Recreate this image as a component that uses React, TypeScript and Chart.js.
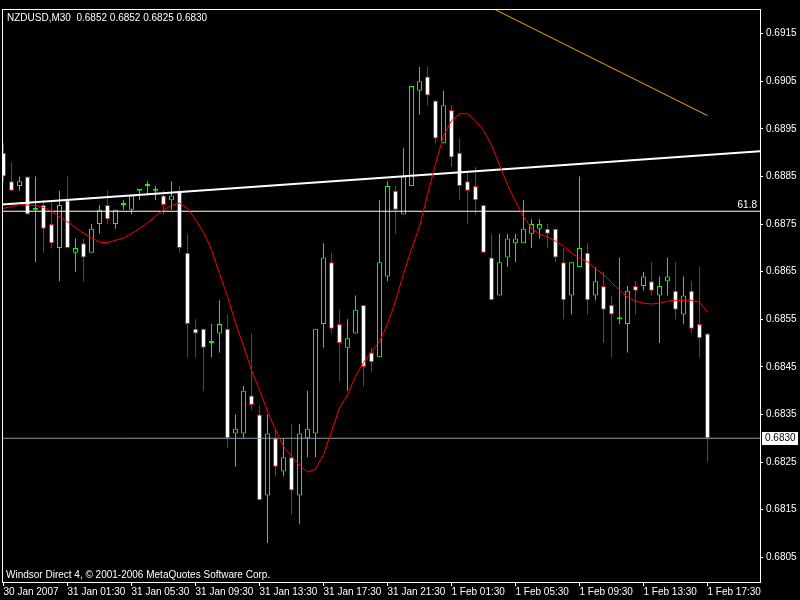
import React, { useEffect, useRef } from 'react';
import { Chart, registerables } from 'chart.js';

Chart.register(...registerables);

// ---- Data (NZDUSD, M30) ----
const SYMBOL = 'NZDUSD,M30';
const OPEN = [
  0.6890, 0.6884, 0.6883, 0.6885, 0.6878, 0.6879, 0.6875, 0.6870, 0.6880, 0.6869,
  0.6871, 0.6869, 0.6875, 0.6879, 0.6875, 0.6879, 0.6878, 0.6882, 0.6883, 0.6882,
  0.6881, 0.6880, 0.6882, 0.6869, 0.6853, 0.6853, 0.6850, 0.6852, 0.6853, 0.6831,
  0.6831, 0.6839, 0.6835, 0.6818, 0.6830, 0.6823, 0.6826, 0.6818, 0.6830, 0.6831,
  0.6854, 0.6867, 0.6854, 0.6849, 0.6852, 0.6858, 0.6848, 0.6847, 0.6864, 0.6882,
  0.6877, 0.6883, 0.6903, 0.6906, 0.6901, 0.6892, 0.6899, 0.6890, 0.6884, 0.6883,
  0.6879, 0.6868, 0.6860, 0.6868, 0.6871, 0.6871, 0.6873, 0.6874, 0.6874, 0.6874,
  0.6867, 0.6860, 0.6866, 0.6869, 0.6860, 0.6862, 0.6858, 0.6855, 0.6854, 0.6862,
  0.6862, 0.6863, 0.6860, 0.6863, 0.6861, 0.6856, 0.6861, 0.6854, 0.6852,
];
const HIGH = [
  0.6892, 0.6888, 0.6885, 0.6885, 0.6885, 0.6880, 0.6880, 0.6882, 0.6885, 0.6872,
  0.6872, 0.6875, 0.6879, 0.6882, 0.6878, 0.6880, 0.6881, 0.6882, 0.6884, 0.6883,
  0.6882, 0.6884, 0.6883, 0.6873, 0.6855, 0.6853, 0.6854, 0.6859, 0.6856, 0.6835,
  0.6841, 0.6852, 0.6837, 0.6835, 0.6832, 0.6830, 0.6833, 0.6833, 0.6840, 0.6853,
  0.6871, 0.6869, 0.6857, 0.6855, 0.6860, 0.6858, 0.6849, 0.6880, 0.6884, 0.6883,
  0.6891, 0.6904, 0.6908, 0.6908, 0.6901, 0.6903, 0.6900, 0.6893, 0.6886, 0.6887,
  0.6879, 0.6873, 0.6873, 0.6873, 0.6873, 0.6880, 0.6876, 0.6876, 0.6875, 0.6874,
  0.6870, 0.6867, 0.6885, 0.6871, 0.6866, 0.6865, 0.6860, 0.6868, 0.6862, 0.6863,
  0.6865, 0.6867, 0.6864, 0.6868, 0.6867, 0.6864, 0.6863, 0.6866, 0.6852,
];
const LOW = [
  0.6884, 0.6882, 0.6882, 0.6877, 0.6867, 0.6869, 0.6870, 0.6863, 0.6870, 0.6865,
  0.6863, 0.6869, 0.6873, 0.6875, 0.6874, 0.6878, 0.6877, 0.6880, 0.6881, 0.6880,
  0.6877, 0.6878, 0.6869, 0.6847, 0.6847, 0.6840, 0.6847, 0.6848, 0.6828, 0.6824,
  0.6830, 0.6836, 0.6817, 0.6808, 0.6822, 0.6822, 0.6814, 0.6812, 0.6826, 0.6826,
  0.6849, 0.6852, 0.6842, 0.6840, 0.6852, 0.6841, 0.6844, 0.6847, 0.6863, 0.6873,
  0.6877, 0.6883, 0.6898, 0.6900, 0.6892, 0.6892, 0.6887, 0.6880, 0.6875, 0.6877,
  0.6869, 0.6859, 0.6860, 0.6866, 0.6867, 0.6871, 0.6870, 0.6872, 0.6870, 0.6867,
  0.6855, 0.6856, 0.6866, 0.6856, 0.6859, 0.6850, 0.6847, 0.6854, 0.6848, 0.6856,
  0.6861, 0.6860, 0.6850, 0.6860, 0.6855, 0.6854, 0.6852, 0.6847, 0.6825,
];
const CLOSE = [
  0.6885, 0.6882, 0.6884, 0.6877, 0.6878, 0.6874, 0.6871, 0.6879, 0.6870, 0.6870,
  0.6868, 0.6874, 0.6878, 0.6876, 0.6878, 0.6879, 0.6881, 0.6882, 0.6883, 0.6882,
  0.6879, 0.6881, 0.6870, 0.6854, 0.6852, 0.6849, 0.6850, 0.6854, 0.6830, 0.6832,
  0.6840, 0.6837, 0.6817, 0.6831, 0.6824, 0.6826, 0.6819, 0.6831, 0.6832, 0.6853,
  0.6868, 0.6853, 0.6850, 0.6851, 0.6857, 0.6845, 0.6846, 0.6867, 0.6883, 0.6878,
  0.6885, 0.6904, 0.6905, 0.6902, 0.6893, 0.6900, 0.6889, 0.6883, 0.6882, 0.6880,
  0.6869, 0.6859, 0.6867, 0.6872, 0.6872, 0.6874, 0.6875, 0.6875, 0.6873, 0.6868,
  0.6859, 0.6867, 0.6870, 0.6859, 0.6863, 0.6857, 0.6856, 0.6855, 0.6861, 0.6861,
  0.6864, 0.6861, 0.6862, 0.6864, 0.6857, 0.6860, 0.6853, 0.6851, 0.6830,
];
// smoothed moving average
const MA = [
  0.68783, 0.68787, 0.68791, 0.68790, 0.68789, 0.68785, 0.68777, 0.68765, 0.68755, 0.68743,
  0.68731, 0.68721, 0.68712, 0.68711, 0.68716, 0.68721, 0.68730, 0.68741, 0.68753, 0.68767,
  0.68780, 0.68789, 0.68794, 0.68783, 0.68759, 0.68733, 0.68696, 0.68646, 0.68598, 0.68542,
  0.68494, 0.68443, 0.68401, 0.68357, 0.68318, 0.68283, 0.68262, 0.68243, 0.68229, 0.68235,
  0.68266, 0.68314, 0.68364, 0.68391, 0.68430, 0.68459, 0.68482, 0.68503, 0.68540, 0.68588,
  0.68646, 0.68698, 0.68745, 0.68812, 0.68876, 0.68936, 0.68967, 0.68982, 0.68982, 0.68967,
  0.68947, 0.68916, 0.68874, 0.68833, 0.68797, 0.68766, 0.68741, 0.68729, 0.68723, 0.68714,
  0.68704, 0.68689, 0.68679, 0.68671, 0.68656, 0.68644, 0.68627, 0.68611, 0.68596, 0.68588,
  0.68584, 0.68582, 0.68584, 0.68588, 0.68590, 0.68590, 0.68590, 0.68586, 0.68565,
];

const X_TICK_BARS = [0, 8, 16, 24, 32, 40, 48, 56, 64, 72, 80, 88];
const X_LABELS = [
  '30 Jan 2007', '31 Jan 01:30', '31 Jan 05:30', '31 Jan 09:30', '31 Jan 13:30', '31 Jan 17:30',
  '31 Jan 21:30', '1 Feb 01:30', '1 Feb 05:30', '1 Feb 09:30', '1 Feb 13:30', '1 Feb 17:30',
];
const Y_TICKS = [0.6805, 0.6815, 0.6825, 0.6835, 0.6845, 0.6855, 0.6865, 0.6875, 0.6885, 0.6895, 0.6905, 0.6915];

const TREND_BARS = [-0.1875, 94.5625];
const TREND_PRICES = [0.68791, 0.68903];
const ORANGE_BARS = [61.3, 88];
const ORANGE_PRICES = [0.69202, 0.68978];
const FIB_LEVEL = 0.68777;
const FIB_LABEL = '61.8';
const BID = 0.6830;
const COPYRIGHT = 'Windsor Direct 4, \u00A9 2001-2006 MetaQuotes Software Corp.';

// axis ranges
const X_MIN = -0.1875;
const X_MAX = 94.5625;
const Y_MIN = 0.67998;
const Y_MAX = 0.69202;

const FONT = '"Liberation Sans", Arial, sans-serif';
const UP = '#00FF00';
const DOWN = '#FF0000';

export default function App() {
  const ref = useRef<HTMLCanvasElement | null>(null);

  useEffect(() => {
    const canvas = ref.current;
    if (!canvas) return;
    const idx = OPEN.map((_, i) => i);
    const isUp = idx.map((i) => CLOSE[i] >= OPEN[i]);
    const last = OPEN.length - 1;
    const title = `${SYMBOL}  ${OPEN[last].toFixed(4)} ${HIGH[last].toFixed(4)} ${LOW[last].toFixed(4)} ${CLOSE[last].toFixed(4)}`;

    const overlay = {
      id: 'mt4overlay',
      beforeDraw(chart: any) {
        const { ctx, width, height } = chart;
        ctx.save();
        ctx.fillStyle = '#000';
        ctx.fillRect(0, 0, width, height);
        ctx.restore();
      },
      afterDraw(chart: any) {
        const { ctx, chartArea: a, scales } = chart;
        const y = scales.y;
        ctx.save();
        ctx.strokeStyle = '#fff';
        ctx.lineWidth = 1;
        ctx.strokeRect(a.left + 0.5, a.top + 0.5, a.right - a.left, a.bottom - a.top);
        ctx.font = `10px ${FONT}`;
        ctx.fillStyle = '#fff';
        ctx.textAlign = 'left';
        ctx.textBaseline = 'middle';
        ctx.fillText(title, a.left + 5, a.top + 9);
        ctx.fillText(COPYRIGHT, a.left + 4, a.bottom - 7);
        const fy = y.getPixelForValue(FIB_LEVEL);
        ctx.textAlign = 'right';
        ctx.textBaseline = 'bottom';
        ctx.fillText(FIB_LABEL, a.right - 3, fy - 1);
        const by = Math.round(y.getPixelForValue(BID));
        ctx.fillStyle = '#fff';
        ctx.fillRect(a.right + 2, by - 6, 36, 13);
        ctx.fillStyle = '#000';
        ctx.textAlign = 'left';
        ctx.textBaseline = 'middle';
        ctx.fillText(BID.toFixed(4), a.right + 5, by + 0.5);
        ctx.restore();
      },
    };

    const chart = new Chart(canvas, {
      type: 'bar',
      data: {
        datasets: [
          {
            type: 'line',
            data: idx.map((i) => ({ x: i, y: MA[i] })),
            borderColor: '#FF0000',
            borderWidth: 1,
            pointRadius: 0,
            tension: 0,
            order: 0,
          } as any,
          {
            type: 'line',
            data: TREND_BARS.map((b, k) => ({ x: b, y: TREND_PRICES[k] })),
            borderColor: '#FFFFFF',
            borderWidth: 2,
            pointRadius: 0,
            order: 1,
          } as any,
          {
            type: 'line',
            data: ORANGE_BARS.map((b, k) => ({ x: b, y: ORANGE_PRICES[k] })),
            borderColor: '#FFA500',
            borderWidth: 1,
            pointRadius: 0,
            order: 1,
          } as any,
          {
            type: 'line',
            data: [{ x: X_MIN, y: FIB_LEVEL }, { x: X_MAX, y: FIB_LEVEL }],
            borderColor: '#FFFFFF',
            borderWidth: 1,
            pointRadius: 0,
            order: 1,
          } as any,
          {
            type: 'line',
            data: [{ x: X_MIN, y: BID }, { x: X_MAX, y: BID }],
            borderColor: '#8899AA',
            borderWidth: 1,
            pointRadius: 0,
            order: 1,
          } as any,
          {
            type: 'bar',
            data: idx.map((i) => ({ x: i, y: [Math.min(OPEN[i], CLOSE[i]), Math.max(OPEN[i], CLOSE[i])] })),
            backgroundColor: idx.map((i) => (isUp[i] ? '#000000' : '#FFFFFF')),
            borderColor: idx.map((i) => (isUp[i] ? UP : DOWN)),
            borderWidth: 1,
            borderSkipped: false,
            barThickness: 5,
            minBarLength: 2,
            inflateAmount: 0,
            grouped: false,
            order: 2,
          } as any,
          {
            type: 'bar',
            data: idx.map((i) => ({ x: i, y: [LOW[i], HIGH[i]] })),
            backgroundColor: idx.map((i) => (isUp[i] ? UP : DOWN)),
            borderWidth: 0,
            barThickness: 1,
            inflateAmount: 0,
            grouped: false,
            order: 3,
          } as any,
        ],
      },
      options: {
        animation: false,
        responsive: false,
        devicePixelRatio: 1,
        events: [],
        layout: { padding: { left: 2, top: 2, right: 0, bottom: 0 } },
        plugins: { legend: { display: false }, tooltip: { enabled: false }, title: { display: false } },
        scales: {
          x: {
            type: 'linear',
            min: X_MIN,
            max: X_MAX,
            offset: false,
            afterBuildTicks: (s: any) => {
              s.ticks = X_TICK_BARS.map((v) => ({ value: v }));
            },
            afterFit: (s: any) => {
              s.height = 18;
            },
            grid: { drawOnChartArea: false, drawTicks: true, tickLength: 4, color: '#FFFFFF', offset: false },
            border: { display: false },
            ticks: {
              color: '#FFFFFF',
              font: { family: FONT, size: 10 },
              padding: 0,
              autoSkip: false,
              maxRotation: 0,
              minRotation: 0,
              align: 'start',
              callback: (_v: any, i: number) => X_LABELS[i],
            },
          },
          y: {
            type: 'linear',
            position: 'right',
            min: Y_MIN,
            max: Y_MAX,
            beginAtZero: false,
            afterBuildTicks: (s: any) => {
              s.ticks = Y_TICKS.map((v) => ({ value: v }));
            },
            afterFit: (s: any) => {
              s.width = 40;
            },
            grid: { drawOnChartArea: false, drawTicks: true, tickLength: 3, color: '#FFFFFF' },
            border: { display: false },
            ticks: {
              color: '#FFFFFF',
              font: { family: FONT, size: 10 },
              padding: 3,
              autoSkip: false,
              callback: (v: any) => Number(v).toFixed(4),
            },
          },
        },
      } as any,
      plugins: [overlay],
    });
    return () => chart.destroy();
  }, []);

  return (
    <div style={{ position: 'fixed', left: 0, top: 0, width: 800, height: 600, background: '#000' }}>
      <canvas ref={ref} width={800} height={600} style={{ display: 'block', width: 800, height: 600 }} />
    </div>
  );
}
